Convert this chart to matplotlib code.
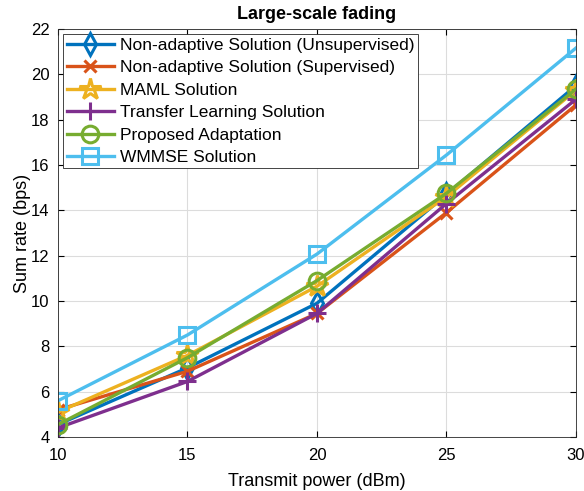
import numpy as np
import matplotlib.pyplot as plt

plt.rcParams['font.family'] = ['Liberation Sans', 'DejaVu Sans']

# Datos
power = [10, 15, 20, 25, 30]
unsupervised = [4.55, 7.05, 9.9, 14.7, 19.5]
supervised = [5.2, 6.9, 9.45, 13.9, 18.65]
maml = [5.1, 7.6, 10.65, 14.6, 19.3]
transfer = [4.4, 6.45, 9.45, 14.3, 18.9]
proposed = [4.55, 7.5, 10.9, 14.75, 19.35]
wmmse = [5.6, 8.5, 12.07, 16.44, 21.16]

labels = ['Non-adaptive Solution (Unsupervised)', 'Non-adaptive Solution (Supervised)',
          'MAML Solution', 'Transfer Learning Solution', 'Proposed Adaptation', 'WMMSE Solution']
series = [unsupervised, supervised, maml, transfer, proposed, wmmse]
colors = ['#0072BD', '#D95319', '#EDB120', '#7E2F8E', '#77AC30', '#4DBEEE']
markers = ['d', 'x', '*', '+', 'o', 's']
sizes = [11, 9, 16, 13, 12, 11]

fig = plt.figure(figsize=(5.84, 4.91), dpi=100)
ax = fig.add_axes([0.0993, 0.110, 0.8870, 0.831])

for y, lab, c, m, s in zip(series, labels, colors, markers, sizes):
    ax.plot(power, y, color=c, marker=m, markersize=s, linewidth=2.4,
            markerfacecolor='none', markeredgewidth=2.2, label=lab)

ax.set_xlim(10, 30)
ax.set_ylim(4, 22)
ax.set_xticks([10, 15, 20, 25, 30])
ax.set_yticks(np.arange(4, 23, 2))
ax.grid(True, color='#dcdcdc', linewidth=0.8)
ax.tick_params(direction='in', top=True, right=True, labelsize=12, length=4)
ax.tick_params(axis='x', pad=8)
ax.tick_params(axis='y', pad=6)
for sp in ax.spines.values():
    sp.set_color('#262626')
    sp.set_linewidth(0.6)

ax.set_xlabel('Transmit power (dBm)', fontsize=13, labelpad=7)
ax.set_ylabel('Sum rate (bps)', fontsize=13, labelpad=0)
ax.set_title('Large-scale fading', fontsize=13, fontweight='bold', pad=7)

leg = ax.legend(loc='upper left', fontsize=12.5, fancybox=False, framealpha=1,
                edgecolor='#262626', handlelength=2.7, borderaxespad=0.3,
                labelspacing=0.42, borderpad=0.2, handletextpad=0.35)
leg.get_frame().set_linewidth(0.6)

fig.savefig('out.png', dpi=100)
